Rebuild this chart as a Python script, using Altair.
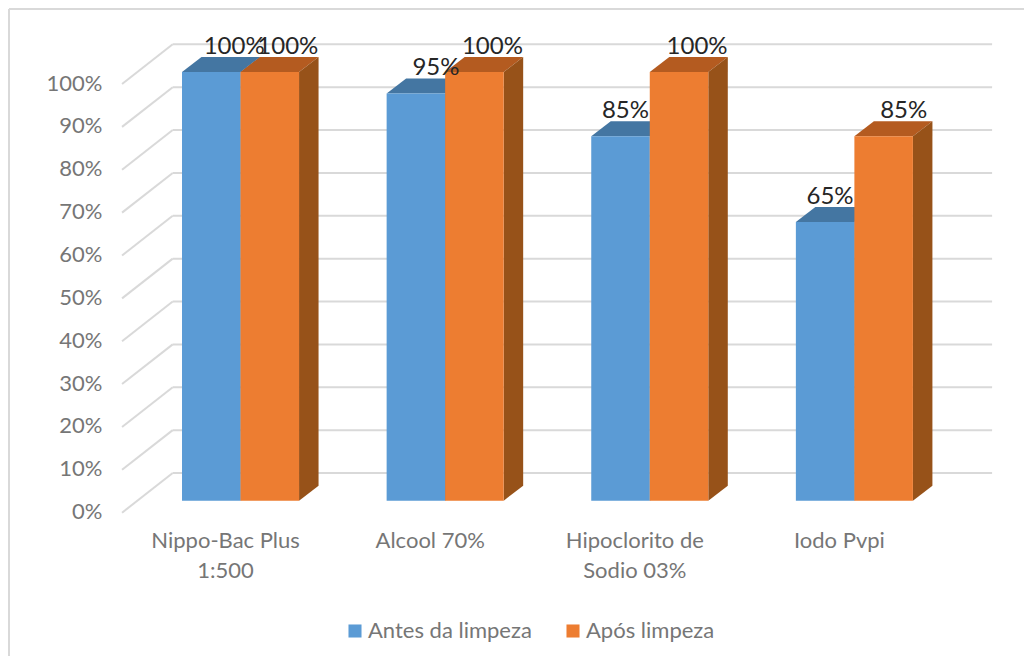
import altair as alt
import pandas as pd

categories = ["Nippo-Bac Plus\n1:500", "Alcool 70%", "Hipoclorito de\nSodio 03%", "Iodo Pvpi"]
antes = [100, 95, 85, 65]
apos = [100, 100, 100, 85]
series_names = ["Antes da limpeza", "Após limpeza"]
ticks = [0, 10, 20, 30, 40, 50, 60, 70, 80, 90, 100]

# pseudo-3D projection constants (category units / percentage units)
BAR_W = 0.286
DEPTH_X = 0.0953
DEPTH_Y = 3.5
WALL_X0, WALL_X1, FLOOR_X = -0.3314, 3.673, -0.579
WALL_DY, FLOOR_DY = 6.46, -2.8
# manual label nudges (category units), as in the original
NUDGE = {"Antes da limpeza": [0.112, 0.098, 0.024, 0.024], "Após limpeza": [0.088, 0.088, 0.088, 0.098]}

FRONT = {"Antes da limpeza": "#5B9BD5", "Após limpeza": "#ED7D31"}
TOP = {"Antes da limpeza": "#4476A2", "Após limpeza": "#B45B20"}
SIDE = {"Antes da limpeza": "#3E6E98", "Após limpeza": "#975219"}

GRID = "#D9D9D9"
FONT = "Lato"
TEXT = "#767676"

xs = alt.Scale(domain=[-1.1364, 3.8289], nice=False, zero=False)
ys = alt.Scale(domain=[-36.23, 114.93], nice=False, zero=False)
y_axis = alt.Axis(
    values=ticks, title=None, domain=False, ticks=False, grid=False, offset=-94,
    labelExpr="datum.value + '%'", labelFont=FONT, labelFontSize=22, labelColor=TEXT,
    labelPadding=0, labelOffset=11)
X = lambda f: alt.X(f, type="quantitative", scale=xs, axis=None)
Y = lambda f: alt.Y(f, type="quantitative", scale=ys, axis=y_axis)

rows, tops, sides, labels = [], [], [], []
for i, cat in enumerate(categories):
    for s, (name, vals) in enumerate(zip(series_names, (antes, apos))):
        v = vals[i]
        x0 = i - BAR_W + s * BAR_W
        x1 = x0 + BAR_W
        rows.append(dict(series=name, x0=x0, x1=x1, v=v, zero=0, order=i))
        for x, a, b in [(x0, v, v), (x0 + DEPTH_X, v, v + DEPTH_Y),
                        (x1, v, v + DEPTH_Y), (x1 + DEPTH_X, v + DEPTH_Y, v + DEPTH_Y)]:
            tops.append(dict(key=f"{i}-{s}", series=name, x=x, a=a, b=b, fill=TOP[name]))
        for x, a, b in [(x1, 0, v), (x1 + DEPTH_X, DEPTH_Y, v + DEPTH_Y)]:
            sides.append(dict(key=f"{i}-{s}", series=name, x=x, a=a, b=b, fill=SIDE[name]))
        labels.append(dict(x=(x0 + x1) / 2 + NUDGE[name][i], y=v + DEPTH_Y, t=f"{v}%"))

rows, tops, sides, labels = map(pd.DataFrame, (rows, tops, sides, labels))
wall = pd.DataFrame([dict(x0=WALL_X0, x1=WALL_X1, y=t + WALL_DY) for t in ticks])
diag = pd.DataFrame(
    [dict(t=t, x=FLOOR_X, y=t + FLOOR_DY) for t in ticks] + [dict(t=t, x=WALL_X0, y=t + WALL_DY) for t in ticks]
)
tick_df = pd.DataFrame(dict(t=ticks))
cats = pd.DataFrame(dict(x=[i - 0.073 for i in range(4)], y=[-7.1] * 4, t=categories))

frame_top = alt.Chart(tick_df.head(1)).mark_rule(color=GRID, strokeWidth=2).encode(
    x=alt.value(1), x2=alt.value(1016), y=alt.value(1))
frame_left = alt.Chart(tick_df.head(1)).mark_rule(color=GRID, strokeWidth=2).encode(
    x=alt.value(1), y=alt.value(1), y2=alt.value(648))

wall_rules = alt.Chart(wall).mark_rule(color=GRID, strokeWidth=2).encode(x=X("x0"), x2="x1:Q", y=Y("y"))
diag_lines = alt.Chart(diag).mark_line(color=GRID, strokeWidth=2).encode(x=X("x"), y=Y("y"), detail="t:N")

layers = [frame_top, frame_left, wall_rules, diag_lines]
color_scale = alt.Scale(domain=series_names, range=[FRONT[n] for n in series_names])
for i in range(4):
    for name in series_names:
        key = f"{i}-{series_names.index(name)}"
        t_ = tops[tops.key == key]
        s_ = sides[sides.key == key]
        layers.append(alt.Chart(t_).mark_area(color=t_.fill.iloc[0], interpolate="linear").encode(
            x=X("x"), y=Y("a"), y2="b:Q"))
        layers.append(alt.Chart(s_).mark_area(color=s_.fill.iloc[0], interpolate="linear").encode(
            x=X("x"), y=Y("a"), y2="b:Q"))
front_bars = alt.Chart(rows).mark_rect().encode(
    x=X("x0"), x2="x1:Q", y=Y("zero"), y2="v:Q",
    color=alt.Color("series:N", scale=color_scale, legend=alt.Legend(
        title=None, orient="none", legendX=336, legendY=612, direction="horizontal",
        symbolType="square", symbolSize=170, symbolStrokeWidth=0, labelFont=FONT, labelFontSize=22,
        labelColor=TEXT, columnPadding=30, labelOffset=2, labelLimit=300)),
)
layers.append(front_bars)

data_labels = alt.Chart(labels).mark_text(font=FONT, fontSize=24, color="#262626", baseline="alphabetic", dy=-3).encode(
    x=X("x"), y=Y("y"), text="t:N")
cat_labels = alt.Chart(cats).mark_text(font=FONT, fontSize=22, color=TEXT, baseline="top", lineBreak="\n", lineHeight=30).encode(
    x=X("x"), y=Y("y"), text="t:N")
layers += [data_labels, cat_labels]

chart = alt.layer(*layers).properties(
    width=1016, height=648, padding=0, autosize=alt.AutoSizeParams(type="none"), background="white"
).configure_view(stroke=None)

chart.save("out.html", embed_options={"renderer": "svg", "actions": False})
